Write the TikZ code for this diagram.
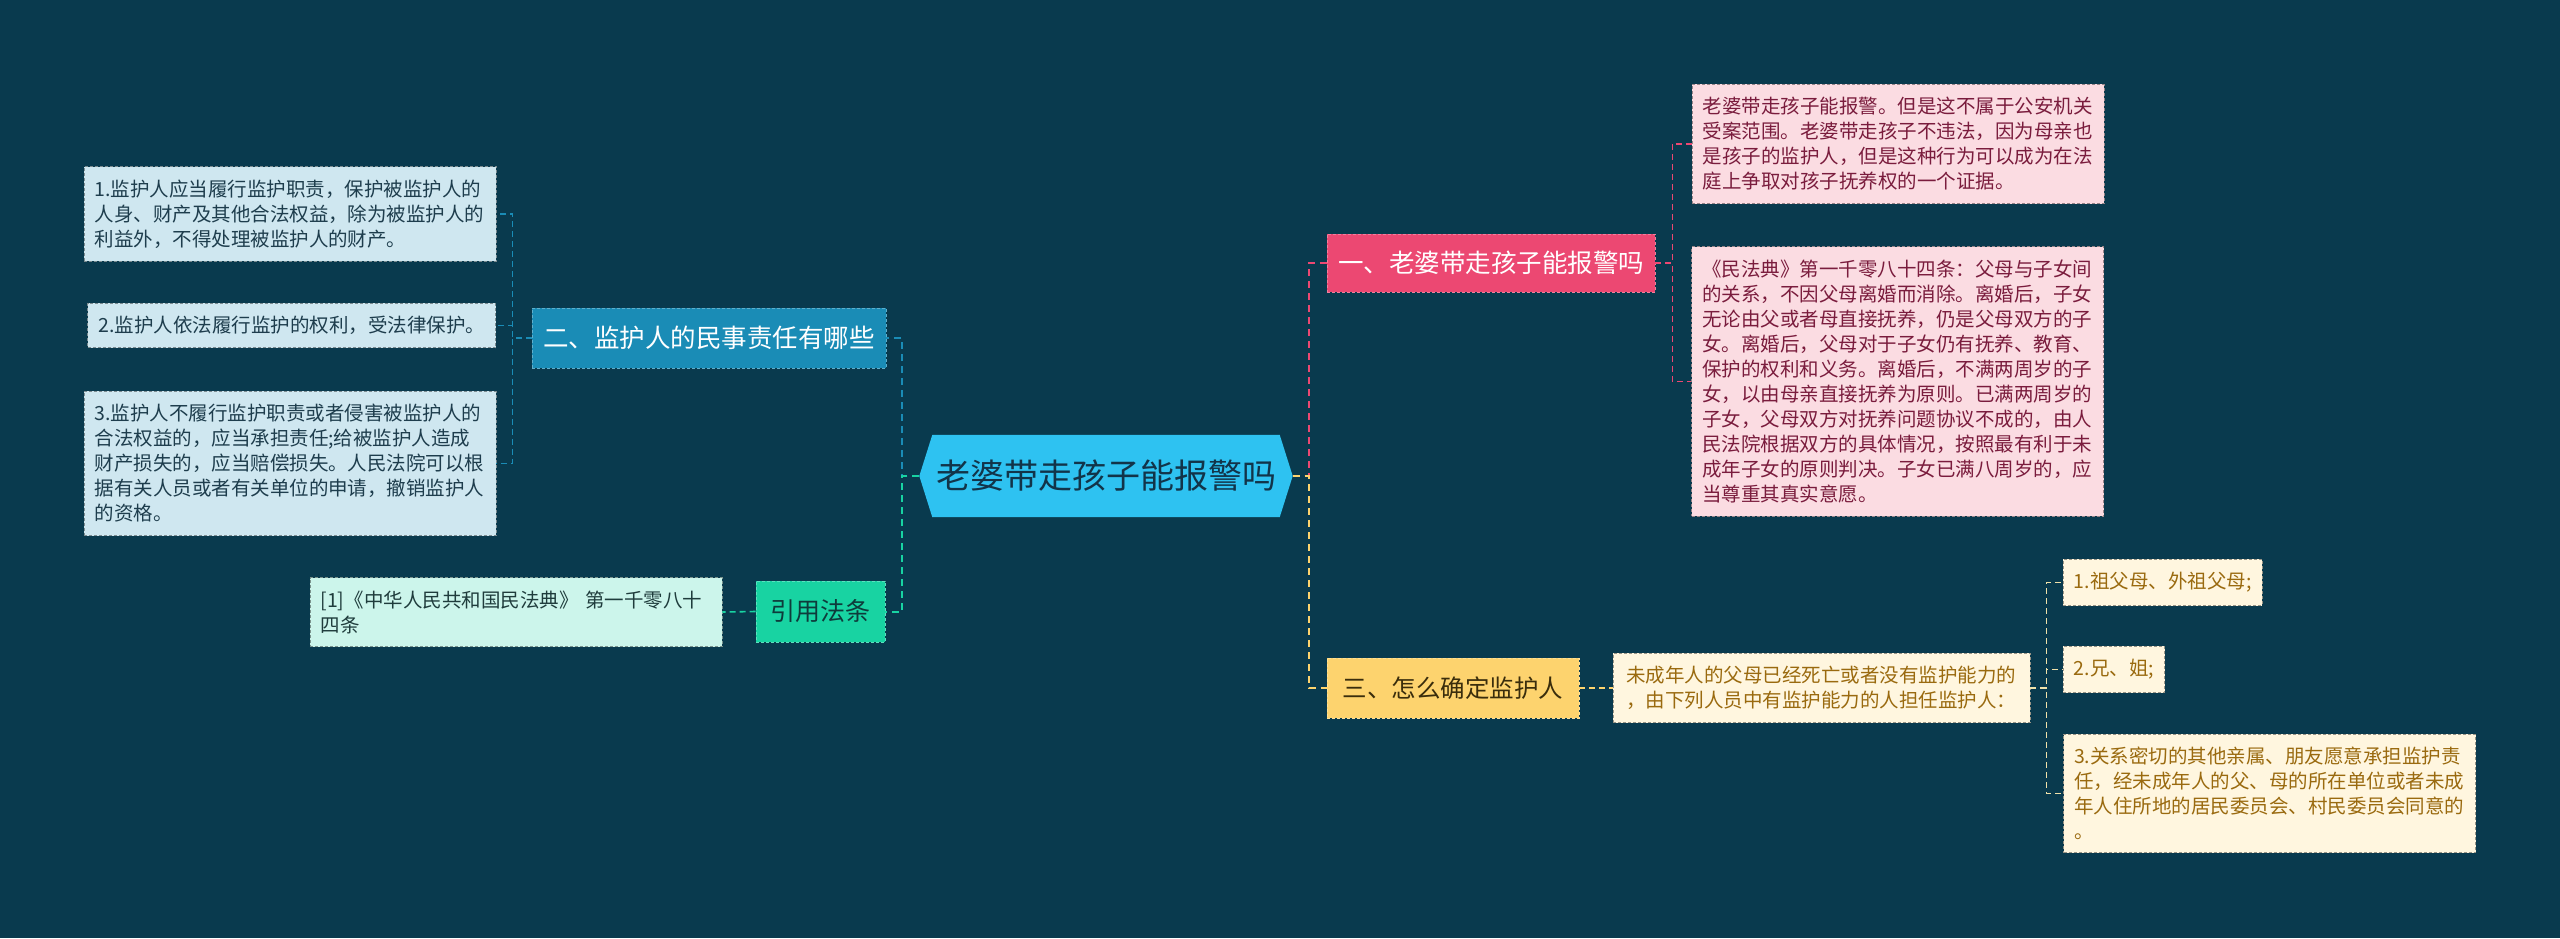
\documentclass[tikz,border=0pt]{standalone}
\usepackage{fontspec}
\setmainfont{Noto Sans CJK SC}
\usetikzlibrary{backgrounds}
\definecolor{bgc}{HTML}{093A4E}
\definecolor{hexc}{HTML}{2EC2F1}
\definecolor{hext}{HTML}{123449}
\definecolor{bluen}{HTML}{1A8CB6}
\definecolor{bluel}{HTML}{CFE7F0}
\definecolor{bluet}{HTML}{1E3D4D}
\definecolor{pinkn}{HTML}{EC4872}
\definecolor{pinkl}{HTML}{FBDCE2}
\definecolor{pinkt}{HTML}{7A1C3D}
\definecolor{yelln}{HTML}{FDD36E}
\definecolor{yellt}{HTML}{3A2D0C}
\definecolor{creaml}{HTML}{FFF6DF}
\definecolor{creamt}{HTML}{9A6A0F}
\definecolor{creamc}{HTML}{F0E1AA}
\definecolor{greenn}{HTML}{18D3A2}
\definecolor{greent}{HTML}{0E3B3B}
\definecolor{mintl}{HTML}{CCF5EB}
\definecolor{mintt}{HTML}{1F3C3C}
\begin{document}
\begin{tikzpicture}[x=1pt,y=-1pt,
  hexnode/.style={minimum width=347pt, minimum height=82pt, inner sep=0pt, text=hext, font=\fontsize{34}{38}\selectfont},
  topic/.style={fill=#1, draw=#1!70!white, line width=0.8pt, dash pattern=on 3pt off 2pt, minimum height=60pt, inner xsep=4pt, inner ysep=0pt},
  leaf/.style={fill=#1, draw=#1!60!black, line width=0.8pt, dash pattern=on 3pt off 2pt, align=left, inner xsep=10.5pt, inner ysep=13pt, font=\fontsize{19.5}{25}\selectfont},
  conn/.style={draw=#1, line width=2pt, dash pattern=on 7pt off 5pt},
  lconn/.style={draw=#1, line width=1.6pt, dash pattern=on 6pt off 4pt}]
\begin{scope}[on background layer]
\fill[bgc] (0,0) rectangle (2560,938);
\end{scope}
\useasboundingbox (0,0) rectangle (2560,938);

% center
\node[hexnode] (c) at (1106,476) {老婆带走孩子能报警吗};
\begin{scope}[on background layer]
\fill[hexc] ([xshift=-13pt]c.west) -- (c.north west) -- (c.north east) -- ([xshift=13pt]c.east) -- (c.south east) -- (c.south west) -- cycle;
\end{scope}

% left branch: 二
\node[topic=bluen, text=white, font=\fontsize{25.5}{29}\selectfont, minimum width=354pt] (er) at (709,338) {二、监护人的民事责任有哪些};
\node[leaf=bluel, text=bluet, text width=391pt] (l1) at (290,214) {1.监护人应当履行监护职责，保护被监护人的\\人身、财产及其他合法权益，除为被监护人的\\利益外，不得处理被监护人的财产。};
\node[leaf=bluel, text=bluet, anchor=east] (l2) at (496,325.5) {2.监护人依法履行监护的权利，受法律保护。};
\node[leaf=bluel, text=bluet, text width=391pt] (l3) at (290,463.5) {3.监护人不履行监护职责或者侵害被监护人的\\合法权益的，应当承担责任;给被监护人造成\\财产损失的，应当赔偿损失。人民法院可以根\\据有关人员或者有关单位的申请，撤销监护人\\的资格。};

% left branch: 引用法条
\node[topic=greenn, text=greent, font=\fontsize{25}{28}\selectfont, minimum width=129pt, minimum height=61pt] (yin) at (820.5,611.5) {引用法条};
\node[leaf=mintl, text=mintt, text width=391pt] (m1) at (516,612) {[1]《中华人民共和国民法典》 第一千零八十\\四条};

% right branch: 一
\node[topic=pinkn, text=white, font=\fontsize{25.5}{29}\selectfont, minimum width=328pt, minimum height=58pt] (yi) at (1491,263) {一、老婆带走孩子能报警吗};
\node[leaf=pinkl, text=pinkt, text width=391pt] (p1) at (1898,144) {老婆带走孩子能报警。但是这不属于公安机关\\受案范围。老婆带走孩子不违法，因为母亲也\\是孩子的监护人，但是这种行为可以成为在法\\庭上争取对孩子抚养权的一个证据。};
\node[leaf=pinkl, text=pinkt, text width=391pt] (p2) at (1897.5,381.5) {《民法典》第一千零八十四条：父母与子女间\\的关系，不因父母离婚而消除。离婚后，子女\\无论由父或者母直接抚养，仍是父母双方的子\\女。离婚后，父母对于子女仍有抚养、教育、\\保护的权利和义务。离婚后，不满两周岁的子\\女，以由母亲直接抚养为原则。已满两周岁的\\子女，父母双方对抚养问题协议不成的，由人\\民法院根据双方的具体情况，按照最有利于未\\成年子女的原则判决。子女已满八周岁的，应\\当尊重其真实意愿。};

% right branch: 三
\node[topic=yelln, text=yellt, font=\fontsize{24.5}{28}\selectfont, minimum width=252pt] (san) at (1453,688) {三、怎么确定监护人};
\node[leaf=creaml, text=creamt, text width=391pt, inner xsep=13pt] (w) at (1821.5,688) {未成年人的父母已经死亡或者没有监护能力的\\，由下列人员中有监护能力的人担任监护人：};
\node[leaf=creaml, text=creamt, anchor=west] (y1) at (2063,582.5) {1.祖父母、外祖父母;};
\node[leaf=creaml, text=creamt, anchor=west] (y2) at (2063,669.5) {2.兄、姐;};
\node[leaf=creaml, text=creamt, text width=391pt] (y3) at (2269.5,793.5) {3.关系密切的其他亲属、朋友愿意承担监护责\\任，经未成年人的父、母的所在单位或者未成\\年人住所地的居民委员会、村民委员会同意的\\。};

% main connectors
\draw[conn=bluen] ([xshift=-13pt]c.west) -- ++(-17,0) |- (er.east);
\draw[conn=greenn] ([xshift=-13pt]c.west) -- ++(-17,0) |- (yin.east);
\draw[conn=pinkn] ([xshift=13pt]c.east) -- ++(16,0) |- (yi.west);
\draw[conn=yelln] ([xshift=13pt]c.east) -- ++(16,0) |- (san.west);

% leaf connectors
\draw[lconn=bluen] (er.west) -- ++(-19,0) |- (l1.east);
\draw[lconn=bluen] (er.west) -- ++(-19,0) |- (l2.east);
\draw[lconn=bluen] (er.west) -- ++(-19,0) |- (l3.east);
\draw[lconn=greenn] (yin.west) -- (m1.east);
\draw[lconn=pinkn] (yi.east) -- ++(17,0) |- (p1.west);
\draw[lconn=pinkn] (yi.east) -- ++(17,0) |- (p2.west);
\draw[lconn=yelln] (san.east) -- (w.west);
\draw[lconn=creamc] (w.east) -- ++(16,0) |- (y1.west);
\draw[lconn=creamc] (w.east) -- ++(16,0) |- (y2.west);
\draw[lconn=creamc] (w.east) -- ++(16,0) |- (y3.west);
\end{tikzpicture}
\end{document}
